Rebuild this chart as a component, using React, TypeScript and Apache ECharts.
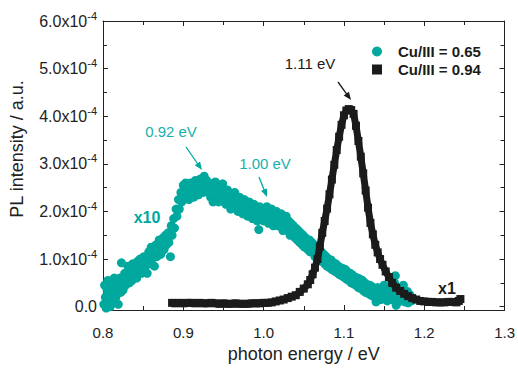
import React, { useEffect, useRef } from "react";
import * as echarts from "echarts";

const FONT = "'Liberation Sans', Arial, Helvetica, sans-serif";
const TEAL = "#00a89d";
const TEAL_TEXT = "#17b1ab";
const BLACK = "#1b1b1b";
const AXIS = "#222222";

// x axis
const X_MIN = 0.8;
const X_MAX = 1.3;
const X_STEP = 0.1;

// y axis (values in units of 1e-4)
const Y_MIN = -0.07;
const Y_MAX = 6;
const Y_MAJOR = [0, 1, 2, 3, 4, 5, 6];
const Y_MINOR = [0.5, 1.5, 2.5, 3.5, 4.5, 5.5];

const SERIES_LOW = "Cu/III = 0.65";
const SERIES_HIGH = "Cu/III = 0.94";

// Cu/III = 0.65 (shown x10), intensity in 1e-4 a.u.
const cuLow: [number, number][] = [
  [0.801, 0.05], [0.802, 0.45], [0.803, 0.2], [0.804, -0.03], [0.805, 0.35], [0.806, 0.55],
  [0.807, 0.1], [0.808, 0.3], [0.809, 0.0], [0.81, 0.5], [0.811, 0.25], [0.812, 0.4],
  [0.813, 0.1], [0.814, 0.6], [0.815, 0.35], [0.816, 0.2], [0.817, 0.5], [0.818, 0.3],
  [0.819, 0.05], [0.82, 0.45], [0.821, 0.6], [0.822, 0.3], [0.823, 0.92], [0.824, 0.5],
  [0.825, 0.35], [0.827, 0.7], [0.828, 0.45], [0.83, 0.6], [0.831, 0.85], [0.833, 0.5],
  [0.834, 0.7], [0.836, 0.55], [0.837, 0.9], [0.839, 0.65], [0.84, 0.8], [0.842, 0.6],
  [0.843, 0.95], [0.845, 0.75], [0.846, 1.0], [0.848, 0.7], [0.849, 0.9], [0.851, 1.05],
  [0.852, 0.8], [0.854, 0.95], [0.855, 0.7], [0.857, 1.15], [0.858, 0.9], [0.86, 1.25],
  [0.861, 1.0], [0.863, 1.15], [0.864, 0.85], [0.866, 1.3], [0.867, 1.05], [0.869, 1.2],
  [0.87, 1.4], [0.872, 1.1], [0.873, 1.3], [0.875, 1.45], [0.876, 1.2], [0.878, 1.5],
  [0.879, 1.3], [0.881, 1.55], [0.882, 1.35], [0.884, 1.05], [0.885, 1.7], [0.886, 1.5],
  [0.888, 1.85], [0.889, 1.65], [0.891, 2.05], [0.892, 1.9], [0.894, 2.25], [0.895, 2.05],
  [0.897, 2.4], [0.898, 2.2], [0.9, 2.55], [0.901, 2.3], [0.903, 2.6], [0.904, 2.4],
  [0.906, 2.5], [0.907, 2.25], [0.909, 2.6], [0.91, 2.4], [0.912, 2.55], [0.913, 2.3],
  [0.915, 2.65], [0.916, 2.45], [0.918, 2.6], [0.919, 2.35], [0.921, 2.68], [0.922, 2.5],
  [0.924, 2.62], [0.925, 2.4], [0.926, 2.74], [0.928, 2.55], [0.929, 2.65], [0.931, 2.4],
  [0.932, 2.6], [0.934, 2.3], [0.935, 2.55], [0.937, 2.2], [0.938, 2.5], [0.94, 2.62],
  [0.941, 2.35], [0.943, 2.5], [0.944, 2.2], [0.946, 2.45], [0.947, 2.3], [0.949, 2.58],
  [0.95, 2.25], [0.952, 2.4], [0.953, 2.15], [0.955, 2.45], [0.956, 2.2], [0.958, 2.35],
  [0.959, 2.05], [0.961, 2.3], [0.962, 2.1], [0.964, 2.4], [0.965, 2.15], [0.967, 2.25],
  [0.968, 2.0], [0.97, 2.3], [0.971, 2.05], [0.973, 2.2], [0.974, 1.95], [0.976, 2.25],
  [0.977, 2.05], [0.979, 2.15], [0.98, 1.9], [0.982, 2.2], [0.983, 2.0], [0.985, 2.1],
  [0.986, 1.85], [0.988, 2.15], [0.989, 1.95], [0.991, 2.05], [0.992, 1.8], [0.994, 1.62],
  [0.995, 2.1], [0.997, 1.9], [0.998, 2.05], [1.0, 1.8], [1.001, 2.0], [1.003, 1.85],
  [1.004, 2.1], [1.006, 1.75], [1.007, 1.95], [1.009, 1.85], [1.01, 2.05], [1.012, 1.7],
  [1.013, 1.9], [1.015, 1.8], [1.016, 2.0], [1.018, 1.7], [1.019, 1.9], [1.021, 1.75],
  [1.022, 1.95], [1.024, 1.6], [1.025, 1.85], [1.027, 1.7], [1.028, 1.9], [1.03, 1.6],
  [1.031, 1.8], [1.033, 1.5], [1.034, 1.75], [1.036, 1.55], [1.037, 1.7], [1.039, 1.45],
  [1.04, 1.65], [1.042, 1.4], [1.043, 1.6], [1.045, 1.35], [1.046, 1.55], [1.048, 1.3],
  [1.049, 1.5], [1.051, 1.25], [1.052, 1.45], [1.054, 1.35], [1.055, 1.2], [1.057, 1.4],
  [1.058, 1.15], [1.06, 1.35], [1.061, 1.2], [1.063, 1.3], [1.064, 1.05], [1.066, 1.25],
  [1.067, 1.1], [1.069, 1.2], [1.07, 0.98], [1.072, 1.15], [1.073, 0.95], [1.075, 1.1],
  [1.076, 0.9], [1.078, 1.05], [1.079, 0.85], [1.081, 1.0], [1.082, 0.82], [1.084, 0.98],
  [1.085, 0.78], [1.087, 0.92], [1.088, 0.75], [1.09, 0.9], [1.091, 0.72], [1.093, 0.85],
  [1.094, 0.68], [1.096, 0.82], [1.097, 0.65], [1.099, 0.8], [1.1, 0.62], [1.102, 0.78],
  [1.103, 0.58], [1.105, 0.72], [1.106, 0.55], [1.108, 0.7], [1.109, 0.5], [1.111, 0.66],
  [1.112, 0.48], [1.114, 0.62], [1.115, 0.45], [1.117, 0.6], [1.118, 0.4], [1.12, 0.58],
  [1.121, 0.38], [1.123, 0.55], [1.124, 0.34], [1.126, 0.5], [1.127, 0.3], [1.129, 0.46],
  [1.13, 0.28], [1.132, 0.45], [1.133, 0.25], [1.135, 0.42], [1.136, 0.22], [1.138, 0.38],
  [1.139, 0.2], [1.14, 0.1], [1.142, 0.4], [1.143, 0.22], [1.145, 0.35], [1.146, 0.15],
  [1.148, 0.3], [1.15, 0.45], [1.151, 0.2], [1.153, 0.32], [1.154, 0.12], [1.156, 0.28],
  [1.158, 0.4], [1.159, 0.15], [1.161, 0.3], [1.163, 0.5], [1.164, 0.65], [1.165, 0.03],
  [1.167, 0.25], [1.168, 0.1], [1.17, 0.35], [1.171, 0.15], [1.173, 0.28], [1.174, 0.45],
  [1.176, 0.1], [1.177, 0.22], [1.179, 0.32], [1.18, 0.08], [1.182, 0.25], [1.184, 0.12],
];

// Cu/III = 0.94 (shown x1), intensity in 1e-4 a.u.
const cuHigh: [number, number][] = [
  [0.886, 0.08], [0.89, 0.07], [0.895, 0.08], [0.9, 0.07], [0.905, 0.08], [0.91, 0.08],
  [0.915, 0.07], [0.92, 0.08], [0.925, 0.07], [0.93, 0.07], [0.935, 0.08], [0.94, 0.07],
  [0.945, 0.06], [0.95, 0.07], [0.955, 0.06], [0.96, 0.06], [0.965, 0.07], [0.97, 0.06],
  [0.975, 0.06], [0.98, 0.06], [0.985, 0.07], [0.99, 0.07], [0.995, 0.07], [1.0, 0.08],
  [1.005, 0.08], [1.01, 0.09], [1.015, 0.11], [1.02, 0.13], [1.025, 0.15], [1.03, 0.18],
  [1.035, 0.21], [1.04, 0.24], [1.045, 0.31], [1.05, 0.38], [1.055, 0.47], [1.058, 0.56],
  [1.061, 0.68], [1.064, 0.82], [1.067, 1.0], [1.07, 1.26], [1.073, 1.55], [1.076, 1.8],
  [1.079, 2.06], [1.082, 2.36], [1.085, 2.67], [1.088, 2.98], [1.091, 3.29], [1.094, 3.57],
  [1.097, 3.82], [1.1, 4.02], [1.103, 4.12], [1.106, 4.15], [1.109, 4.13], [1.112, 4.05],
  [1.115, 3.8], [1.118, 3.48], [1.121, 3.15], [1.124, 2.8], [1.127, 2.44], [1.13, 2.08],
  [1.133, 1.76], [1.136, 1.52], [1.139, 1.3], [1.142, 1.14], [1.145, 1.0], [1.148, 0.88],
  [1.152, 0.74], [1.156, 0.62], [1.16, 0.5], [1.165, 0.4], [1.17, 0.33], [1.175, 0.27],
  [1.18, 0.22], [1.185, 0.18], [1.19, 0.15], [1.195, 0.12], [1.2, 0.11], [1.205, 0.1],
  [1.21, 0.1], [1.215, 0.09], [1.22, 0.09], [1.225, 0.09], [1.23, 0.1], [1.235, 0.1],
  [1.24, 0.09], [1.243, 0.12], [1.245, 0.16],
];

function arrow(x1: number, y1: number, x2: number, y2: number, color: string) {
  const dx = x2 - x1;
  const dy = y2 - y1;
  const len = Math.sqrt(dx * dx + dy * dy);
  const ux = dx / len;
  const uy = dy / len;
  const head = 8;
  const half = 3.2;
  const bx = x2 - ux * head;
  const by = y2 - uy * head;
  const px = -uy * half;
  const py = ux * half;
  return [
    {
      type: "line",
      shape: { x1, y1, x2: bx + ux, y2: by + uy },
      style: { stroke: color, lineWidth: 1.3 },
      silent: true,
    },
    {
      type: "polygon",
      shape: { points: [[x2, y2], [bx + px, by + py], [bx - px, by - py]] },
      style: { fill: color },
      silent: true,
    },
  ];
}

function text(x: number, y: number, t: string, color: string, size: number, bold = false) {
  return {
    type: "text",
    x,
    y,
    silent: true,
    style: {
      text: t,
      fill: color,
      fontSize: size,
      fontWeight: bold ? "bold" : "normal",
      fontFamily: FONT,
      align: "center",
      verticalAlign: "middle",
    },
  };
}

const xAxisBase = {
  type: "value",
  min: X_MIN,
  max: X_MAX,
  interval: X_STEP,
  axisLine: { show: true, onZero: false, lineStyle: { color: AXIS, width: 1 } },
  axisTick: { show: true, inside: true, length: 5, lineStyle: { color: AXIS } },
  minorTick: { show: true, splitNumber: 2, length: 4, lineStyle: { color: AXIS } },
  splitLine: { show: false },
  minorSplitLine: { show: false },
};

function yAxisDef(position: string, values: number[], len: number, labels: boolean, line: boolean) {
  return {
    type: "value",
    position,
    min: Y_MIN,
    max: Y_MAX,
    axisLine: { show: line, onZero: false, lineStyle: { color: AXIS, width: 1 } },
    axisTick: { show: true, inside: true, length: len, customValues: values, lineStyle: { color: AXIS } },
    minorTick: { show: false },
    splitLine: { show: false },
    axisLabel: labels
      ? {
          show: true,
          customValues: values,
          margin: 6,
          formatter: (v: number) =>
            Math.abs(v) < 1e-9 ? "{m|0.0}" : `{m|${v.toFixed(1)}x10}{s|-4}`,
          rich: {
            m: { fontSize: 16, color: AXIS, fontFamily: FONT, lineHeight: 22 },
            s: { fontSize: 11, color: AXIS, fontFamily: FONT, lineHeight: 22, verticalAlign: "top" },
          },
        }
      : { show: false },
  };
}

export default function App() {
  const ref = useRef<HTMLDivElement>(null);
  useEffect(() => {
    if (!ref.current) return;
    const chart = echarts.init(ref.current, null, { renderer: "svg" });
    const option: any = {
      animation: false,
      backgroundColor: "#ffffff",
      grid: { left: 103, right: 11, top: 21, bottom: 51 },
      legend: {
        orient: "vertical",
        left: 367,
        top: 39,
        itemWidth: 10,
        itemHeight: 10,
        itemGap: 3,
        data: [
          { name: SERIES_LOW, icon: "circle" },
          { name: SERIES_HIGH, icon: "rect" },
        ],
        textStyle: {
          fontSize: 15,
          fontWeight: "bold",
          color: BLACK,
          fontFamily: FONT,
          padding: [0, 0, 0, 11],
        },
      },
      xAxis: [
        {
          ...xAxisBase,
          position: "bottom",
          axisLabel: {
            show: true,
            formatter: (v: number) => v.toFixed(1),
            fontSize: 15,
            color: AXIS,
            margin: 15,
            fontFamily: FONT,
          },
          name: "photon energy / eV",
          nameLocation: "middle",
          nameGap: 35,
          nameTextStyle: { fontSize: 18, color: AXIS, fontFamily: FONT },
        },
        {
          ...xAxisBase,
          position: "top",
          axisLabel: { show: false },
        },
      ],
      yAxis: [
        yAxisDef("left", Y_MAJOR, 5, true, true),
        yAxisDef("left", Y_MINOR, 4, false, false),
        yAxisDef("right", Y_MAJOR, 5, false, true),
        yAxisDef("right", Y_MINOR, 4, false, false),
      ],
      series: [
        {
          name: SERIES_LOW,
          type: "scatter",
          xAxisIndex: 0,
          yAxisIndex: 0,
          data: cuLow,
          symbol: "circle",
          symbolSize: 9,
          itemStyle: { color: TEAL, opacity: 1 },
          z: 2,
        },
        {
          name: SERIES_HIGH,
          type: "line",
          xAxisIndex: 0,
          yAxisIndex: 0,
          data: cuHigh,
          symbol: "rect",
          symbolSize: 8,
          showAllSymbol: true,
          lineStyle: { color: BLACK, width: 7 },
          itemStyle: { color: BLACK },
          z: 3,
        },
      ],
      graphic: [
        {
          type: "text",
          x: 17,
          y: 149,
          rotation: Math.PI / 2,
          silent: true,
          style: {
            text: "PL intensity / a.u.",
            fill: AXIS,
            fontSize: 18,
            fontFamily: FONT,
            align: "center",
            verticalAlign: "middle",
          },
        },
        text(171, 131, "0.92 eV", TEAL_TEXT, 15),
        text(265, 163, "1.00 eV", TEAL_TEXT, 15),
        text(310, 63, "1.11 eV", BLACK, 15),
        text(147, 217, "x10", TEAL, 16, true),
        text(447, 288, "x1", BLACK, 16, true),
        ...arrow(186, 147, 202, 170, TEAL),
        ...arrow(259, 177, 267, 197, TEAL),
        ...arrow(338, 82, 351, 100, BLACK),
      ],
    };
    chart.setOption(option);
    return () => chart.dispose();
  }, []);
  return (
    <div
      ref={ref}
      style={{ position: "fixed", left: 0, top: 0, width: 518, height: 368, background: "#fff" }}
    />
  );
}
